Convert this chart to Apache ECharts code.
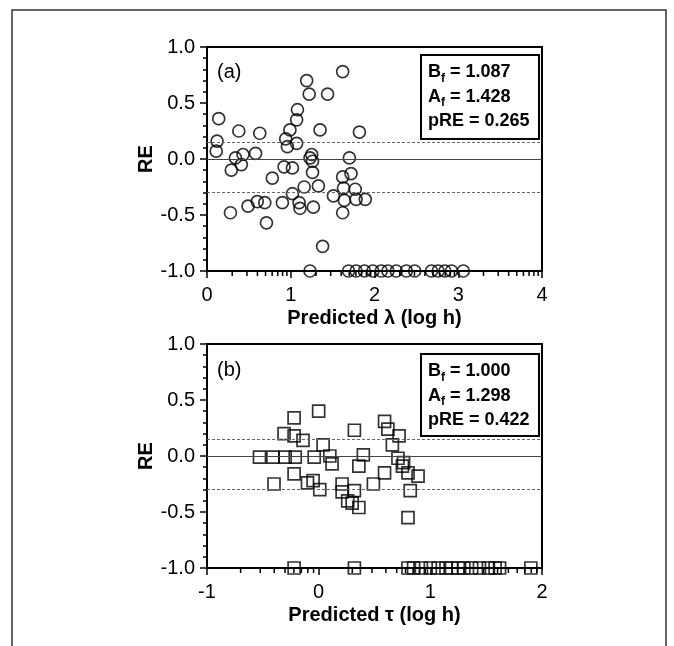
<!DOCTYPE html>
<html><head><meta charset="utf-8">
<script src="https://cdn.jsdelivr.net/npm/echarts@6/dist/echarts.min.js"></script>
<style>html,body{margin:0;padding:0;background:#fff}#c{width:674px;height:646px}</style>
</head><body><div id="c"></div>
<script>
// ---- Panel (a): predicted lambda (log h) vs RE ----
const circlesA = [
  [0.14,0.36],[0.12,0.16],[0.11,0.07],[0.38,0.25],[0.63,0.23],[0.34,0.01],[0.43,0.04],
  [0.41,-0.05],[0.29,-0.10],[0.58,0.05],[0.28,-0.48],[0.49,-0.42],[0.60,-0.38],[0.69,-0.39],
  [0.71,-0.57],[0.78,-0.17],[0.90,-0.39],[0.92,-0.07],[1.02,-0.08],[0.96,0.11],[0.94,0.18],
  [0.99,0.26],[1.07,0.35],[1.08,0.44],[1.07,0.14],[1.02,-0.31],[1.10,-0.39],[1.11,-0.44],
  [1.16,-0.25],[1.19,0.70],[1.22,0.58],[1.25,0.04],[1.26,-0.02],[1.26,-0.12],[1.27,-0.43],
  [1.33,-0.24],[1.38,-0.78],[1.44,0.58],[1.35,0.26],[1.62,0.78],[1.82,0.24],[1.70,0.01],
  [1.72,-0.13],[1.62,-0.16],[1.51,-0.33],[1.63,-0.26],[1.77,-0.27],[1.64,-0.37],[1.78,-0.36],
  [1.89,-0.36],[1.62,-0.48],[1.23,0.01]
];
const floorA = [1.23,1.69,1.78,1.88,1.98,2.08,2.16,2.26,2.38,2.48,2.68,2.76,2.84,2.92,3.06];
// ---- Panel (b): predicted tau (log h) vs RE ----
const squaresB = [
  [-0.53,-0.01],[-0.41,-0.01],[-0.30,-0.01],[-0.21,-0.01],[-0.40,-0.25],[-0.31,0.20],[-0.22,0.34],
  [-0.22,0.18],[-0.14,0.14],[-0.22,-0.16],[-0.10,-0.24],[-0.05,-0.22],[0.00,0.40],[-0.04,-0.01],
  [0.01,-0.30],[0.04,0.10],[0.10,0.00],[0.12,-0.07],[0.21,-0.25],[0.21,-0.32],[0.26,-0.40],
  [0.30,-0.42],[0.36,-0.46],[0.32,0.23],[0.40,0.01],[0.36,-0.09],[0.32,-0.31],[0.49,-0.25],
  [0.59,0.31],[0.62,0.24],[0.72,0.18],[0.66,0.10],[0.71,-0.02],[0.76,-0.06],[0.75,-0.09],
  [0.80,-0.15],[0.89,-0.18],[0.82,-0.31],[0.80,-0.55],[0.59,-0.15]
];
const floorB = [-0.22,0.32,0.80,0.85,0.92,1.00,1.07,1.14,1.19,1.25,1.30,1.37,1.44,1.52,1.58,1.62,1.90];
const refLevels = [0.15, -0.3];
const statsA = ['1.087','1.428','0.265'];
const statsB = ['1.000','1.298','0.422'];
const xTicksA = [0,1,2,3,4];
const xTicksB = [-1,0,1,2];
const yTicks = [-1,-0.5,0,0.5,1];
const floorRE = -1;

const FONT = '"Liberation Sans", Arial, sans-serif';
const chart = echarts.init(document.getElementById('c'), null, {renderer:'canvas'});

function minorLog(ticks){
  const out=[];
  for(let i=0;i<ticks.length-1;i++) for(let k=2;k<=9;k++) out.push([ticks[i]+Math.log10(k), floorRE]);
  return out;
}
function xAxisCfg(grid, ticks, name){
  return {gridIndex:grid, type:'value', min:ticks[0], max:ticks[ticks.length-1], interval:1,
    axisLine:{show:true,onZero:false,lineStyle:{color:'#000',width:2}},
    axisTick:{show:true,length:7,lineStyle:{color:'#000',width:1.5}},
    axisLabel:{fontSize:20,color:'#000',margin:14,fontFamily:FONT},
    splitLine:{show:false},
    name:name,nameLocation:'middle',nameGap:37,
    nameTextStyle:{fontSize:20,fontWeight:'bold',color:'#000',fontFamily:FONT}};
}
function yAxisCfg(grid){
  return {gridIndex:grid, type:'value', min:yTicks[0], max:yTicks[yTicks.length-1], interval:0.5,
    axisLine:{show:true,onZero:false,lineStyle:{color:'#000',width:2}},
    axisTick:{show:true,length:7,lineStyle:{color:'#000',width:1.5}},
    minorTick:{show:true,splitNumber:5,length:4,lineStyle:{color:'#000',width:1.5}},
    axisLabel:{fontSize:20,color:'#000',margin:12,fontFamily:FONT,formatter:v=>v.toFixed(1)},
    splitLine:{show:false},
    name:'RE',nameLocation:'middle',nameGap:45,nameRotate:90,
    nameTextStyle:{fontSize:20,fontWeight:'bold',color:'#000',fontFamily:FONT}};
}
function refMarks(){
  return {symbol:'none',silent:true,label:{show:false},animation:false,
    data:[{yAxis:0,lineStyle:{type:'solid',color:'#444',width:1}}]
      .concat(refLevels.map(v=>({yAxis:v,lineStyle:{type:[3,2],color:'#666',width:1}})))};
}
function tickSeries(idx, ticks){
  return {type:'custom',xAxisIndex:idx,yAxisIndex:idx,silent:true,clip:false,z:5,
    data:minorLog(ticks),
    renderItem:(p,api)=>{const pt=api.coord([api.value(0),api.value(1)]);
      return {type:'line',shape:{x1:pt[0],y1:pt[1],x2:pt[0],y2:pt[1]+5},style:{stroke:'#000',lineWidth:1.5}};}};
}
const symStyle = {color:'rgba(0,0,0,0)',borderColor:'#000',borderWidth:1.7};
function statText(vals){
  return '{m|B}{s|f}{m| = '+vals[0]+'}\n{m|A}{s|f}{m| = '+vals[1]+'}\n{m|pRE = '+vals[2]+'}';
}
const richStyle = {
  m:{fontSize:18,fontWeight:'bold',fontFamily:FONT,lineHeight:24.5,verticalAlign:'middle',fill:'#000'},
  s:{fontSize:12,fontWeight:'bold',fontFamily:FONT,verticalAlign:'bottom',fill:'#000'}
};

chart.setOption({
  animation:false,
  backgroundColor:'#fff',
  grid:[
    {left:207,top:47,width:335,height:224,show:true,borderColor:'#000',borderWidth:2,backgroundColor:'transparent'},
    {left:207,top:344,width:335,height:224,show:true,borderColor:'#000',borderWidth:2,backgroundColor:'transparent'}
  ],
  xAxis:[xAxisCfg(0,xTicksA,'Predicted \u03bb (log h)'), xAxisCfg(1,xTicksB,'Predicted \u03c4 (log h)')],
  yAxis:[yAxisCfg(0), yAxisCfg(1)],
  series:[
    {type:'scatter',xAxisIndex:0,yAxisIndex:0,symbol:'circle',symbolSize:12,itemStyle:symStyle,silent:true,
      data:circlesA.concat(floorA.map(x=>[x,floorRE])),markLine:refMarks(),z:3},
    {type:'scatter',xAxisIndex:1,yAxisIndex:1,symbol:'rect',symbolSize:12,itemStyle:symStyle,silent:true,
      data:squaresB.concat(floorB.map(x=>[x,floorRE])),markLine:refMarks(),z:3},
    tickSeries(0,xTicksA), tickSeries(1,xTicksB)
  ],
  graphic:[
    {type:'polyline',shape:{points:[[12,646],[12,10],[666,10],[666,646]]},style:{stroke:'#333',lineWidth:1.5,fill:null},z:0},
    {type:'text',left:217,top:62,style:{text:'(a)',fontSize:20,fontFamily:FONT,fill:'#000'},z:10},
    {type:'text',left:217,top:360,style:{text:'(b)',fontSize:20,fontFamily:FONT,fill:'#000'},z:10},
    {type:'rect',shape:{x:421,y:55,width:118,height:84},style:{fill:'#fff',stroke:'#000',lineWidth:2},z:10},
    {type:'text',x:428,y:60,style:{text:statText(statsA),rich:richStyle,fill:'#000'},z:11},
    {type:'rect',shape:{x:421,y:354,width:118,height:82},style:{fill:'#fff',stroke:'#000',lineWidth:2},z:10},
    {type:'text',x:428,y:359,style:{text:statText(statsB),rich:richStyle,fill:'#000'},z:11}
  ]
});
</script></body></html>
